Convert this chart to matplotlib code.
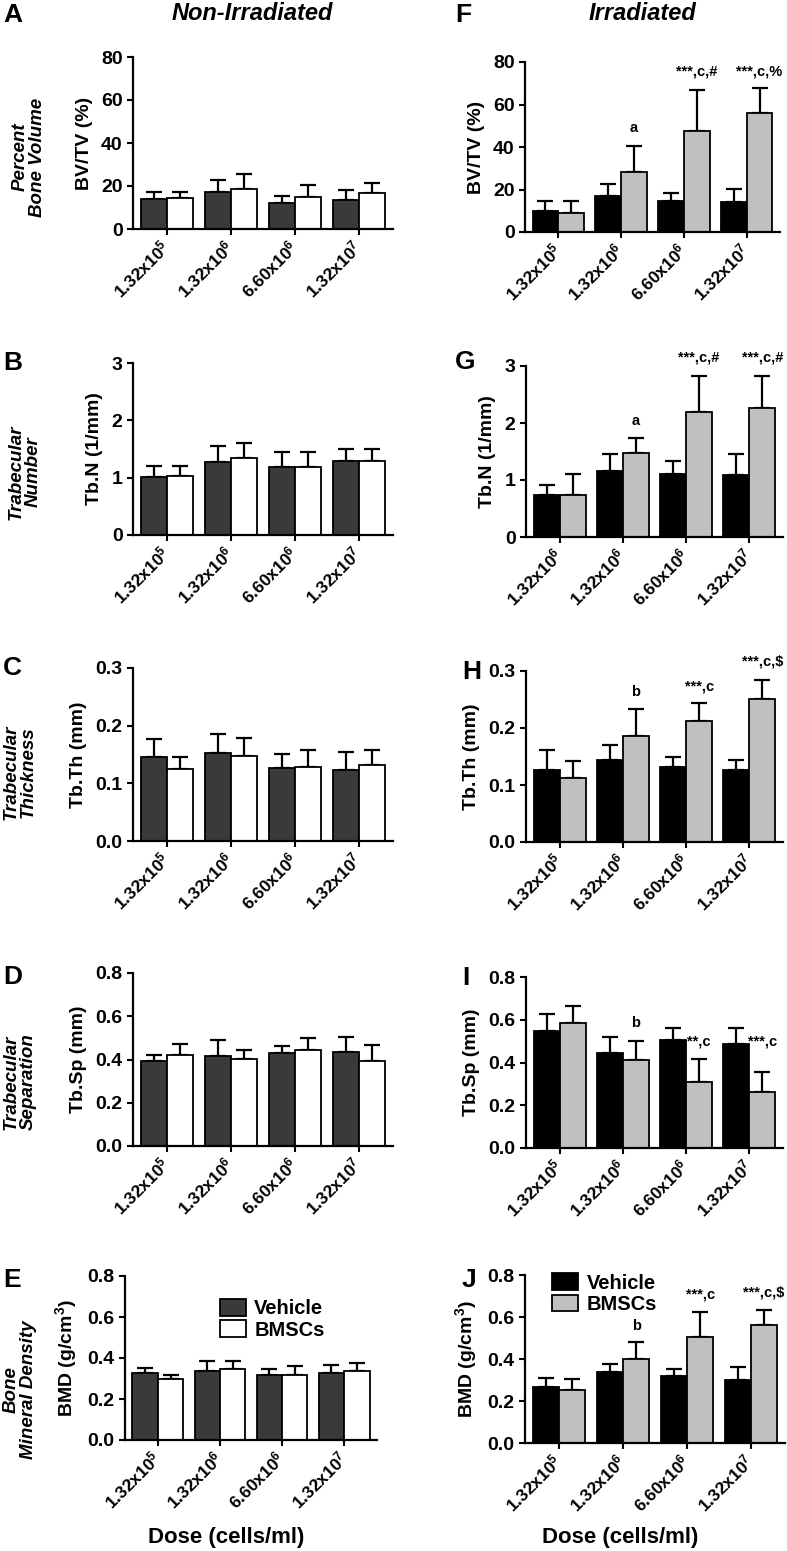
import matplotlib
matplotlib.use('Agg')
import matplotlib.pyplot as plt

plt.rcParams['font.family'] = ['Liberation Sans', 'DejaVu Sans']
plt.rcParams['font.weight'] = 'bold'
plt.rcParams['mathtext.fontset'] = 'custom'
plt.rcParams['mathtext.rm'] = 'Liberation Sans:bold'
plt.rcParams['mathtext.bf'] = 'Liberation Sans:bold'
plt.rcParams['mathtext.it'] = 'Liberation Sans:bold:italic'
plt.rcParams['mathtext.default'] = 'rm'

# dose categories (x tick labels)
doses = ['1.32x10$^{5}$', '1.32x10$^{6}$', '6.60x10$^{6}$', '1.32x10$^{7}$']
doses_g = ['1.32x10$^{6}$', '1.32x10$^{6}$', '6.60x10$^{6}$', '1.32x10$^{7}$']

# Non-irradiated: means and upper error
bvtv_veh = [14.1, 17.1, 12.2, 13.4]
bvtv_veh_err = [3.0, 5.8, 3.2, 4.7]
bvtv_bm = [14.2, 18.8, 15.1, 16.7]
bvtv_bm_err = [2.9, 6.8, 5.3, 4.6]

tbn_veh = [1.01, 1.27, 1.18, 1.29]
tbn_veh_err = [0.20, 0.29, 0.27, 0.21]
tbn_bm = [1.03, 1.34, 1.18, 1.29]
tbn_bm_err = [0.18, 0.27, 0.27, 0.21]

tbth_veh = [0.145, 0.152, 0.126, 0.123]
tbth_veh_err = [0.032, 0.033, 0.025, 0.032]
tbth_bm = [0.124, 0.147, 0.129, 0.131]
tbth_bm_err = [0.022, 0.032, 0.028, 0.026]

tbsp_veh = [0.395, 0.414, 0.432, 0.436]
tbsp_veh_err = [0.024, 0.074, 0.031, 0.067]
tbsp_bm = [0.420, 0.403, 0.443, 0.392]
tbsp_bm_err = [0.053, 0.043, 0.057, 0.073]

bmd_veh = [0.326, 0.338, 0.317, 0.328]
bmd_veh_err = [0.025, 0.045, 0.027, 0.039]
bmd_bm = [0.297, 0.344, 0.317, 0.339]
bmd_bm_err = [0.021, 0.039, 0.043, 0.036]

# Irradiated
ir_bvtv_veh = [9.8, 16.9, 14.5, 14.2]
ir_bvtv_veh_err = [4.7, 5.9, 3.9, 6.0]
ir_bvtv_bm = [9.0, 28.2, 47.6, 55.9]
ir_bvtv_bm_err = [5.6, 12.3, 19.3, 12.1]

ir_tbn_veh = [0.73, 1.16, 1.10, 1.08]
ir_tbn_veh_err = [0.18, 0.30, 0.24, 0.38]
ir_tbn_bm = [0.73, 1.48, 2.19, 2.27]
ir_tbn_bm_err = [0.37, 0.25, 0.64, 0.56]

ir_tbth_veh = [0.127, 0.144, 0.131, 0.126]
ir_tbth_veh_err = [0.034, 0.026, 0.018, 0.017]
ir_tbth_bm = [0.113, 0.186, 0.213, 0.250]
ir_tbth_bm_err = [0.029, 0.047, 0.031, 0.035]

ir_tbsp_veh = [0.548, 0.444, 0.505, 0.485]
ir_tbsp_veh_err = [0.081, 0.075, 0.057, 0.076]
ir_tbsp_bm = [0.586, 0.410, 0.309, 0.264]
ir_tbsp_bm_err = [0.080, 0.089, 0.107, 0.092]

ir_bmd_veh = [0.266, 0.338, 0.317, 0.301]
ir_bmd_veh_err = [0.043, 0.039, 0.035, 0.060]
ir_bmd_bm = [0.252, 0.399, 0.507, 0.561]
ir_bmd_bm_err = [0.052, 0.080, 0.116, 0.073]

# significance marks: (group, text, y)
marks_F = [(1, 'a', 48.8), (2, '***,c,#', 75.6), (3, '***,c,%', 75.6)]
marks_G = [(1, 'a', 2.04), (2, '***,c,#', 3.15), (3, '***,c,#', 3.15)]
marks_H = [(1, 'b', 0.263), (2, '***,c', 0.273), (3, '***,c,$', 0.317)]
marks_I = [(1, 'b', 0.586), (2, '**,c', 0.50), (3, '***,c', 0.50)]
marks_J = [(1, 'b', 0.559), (2, '***,c', 0.707), (3, '***,c,$', 0.716)]

W, H = 787, 1551
fig = plt.figure(figsize=(W / 100, H / 100), dpi=100)


def make_ax(l, r, t, b):
    return fig.add_axes([l / W, 1 - b / H, (r - l) / W, (b - t) / H])


def panel(ax, veh, veh_err, bm, bm_err, c_veh, c_bm, ymax, yticks, ylabel,
          xlabels, fmt, marks=()):
    w = 0.41
    x = list(range(len(veh)))
    xv = [i - w / 2 for i in x]
    xb = [i + w / 2 for i in x]
    ax.errorbar(xv, veh, yerr=[[0] * len(veh), veh_err], fmt='none',
                ecolor='black', elinewidth=1.6, capsize=6, capthick=1.6, zorder=1)
    ax.errorbar(xb, bm, yerr=[[0] * len(bm), bm_err], fmt='none',
                ecolor='black', elinewidth=1.6, capsize=6, capthick=1.6, zorder=1)
    ax.bar(xv, veh, width=w, color=c_veh, edgecolor='black', linewidth=1.3,
           zorder=2, label='Vehicle')
    ax.bar(xb, bm, width=w, color=c_bm, edgecolor='black', linewidth=1.3,
           zorder=2, label='BMSCs')
    ax.set_xlim(-0.53, 3.53)
    ax.set_ylim(0, ymax)
    ax.set_yticks(yticks)
    ax.set_yticklabels([fmt.format(v) for v in yticks], fontsize=14,
                       fontweight='bold')
    ax.set_xticks(x)
    ax.set_xticklabels(xlabels, rotation=45, ha='right', va='center',
                       rotation_mode='anchor', fontsize=12.5, fontweight='bold')
    ax.tick_params(axis='x', pad=7)
    ax.tick_params(direction='out', length=4, width=1.5)
    ax.set_ylabel(ylabel, fontsize=14, fontweight='bold', labelpad=6)
    for s in ['top', 'right']:
        ax.spines[s].set_visible(False)
    for s in ['left', 'bottom']:
        ax.spines[s].set_linewidth(1.6)
    for g, txt, y in marks:
        ax.text(g + w / 2, y, txt, ha='center', va='center', fontsize=10.5,
                fontweight='bold', clip_on=False)


dark = '#3a3a3a'
light = '#c0c0c0'

axA = make_ax(133, 393, 57, 229)
panel(axA, bvtv_veh, bvtv_veh_err, bvtv_bm, bvtv_bm_err, dark, 'white',
      80, [0, 20, 40, 60, 80], 'BV/TV (%)', doses, '{:.0f}')
axB = make_ax(133, 393, 363, 535)
panel(axB, tbn_veh, tbn_veh_err, tbn_bm, tbn_bm_err, dark, 'white',
      3, [0, 1, 2, 3], 'Tb.N (1/mm)', doses, '{:.0f}')
axC = make_ax(133, 393, 668, 841)
panel(axC, tbth_veh, tbth_veh_err, tbth_bm, tbth_bm_err, dark, 'white',
      0.3, [0, 0.1, 0.2, 0.3], 'Tb.Th (mm)', doses, '{:.1f}')
axD = make_ax(133, 393, 973, 1146)
panel(axD, tbsp_veh, tbsp_veh_err, tbsp_bm, tbsp_bm_err, dark, 'white',
      0.8, [0, 0.2, 0.4, 0.6, 0.8], 'Tb.Sp (mm)', doses, '{:.1f}')
axE = make_ax(125, 377, 1276, 1440)
panel(axE, bmd_veh, bmd_veh_err, bmd_bm, bmd_bm_err, dark, 'white',
      0.8, [0, 0.2, 0.4, 0.6, 0.8], 'BMD (g/cm$^{3}$)', doses, '{:.1f}')
axE.legend(loc='upper left', bbox_to_anchor=(0.377, 0.86), frameon=False,
           fontsize=14.5, borderpad=0, borderaxespad=0, handlelength=1.3,
           handleheight=0.9, handletextpad=0.4, labelspacing=0.1)

axF = make_ax(525, 780, 62, 232)
panel(axF, ir_bvtv_veh, ir_bvtv_veh_err, ir_bvtv_bm, ir_bvtv_bm_err, 'black',
      light, 80, [0, 20, 40, 60, 80], 'BV/TV (%)', doses, '{:.0f}', marks_F)
axG = make_ax(526, 783, 366, 537)
panel(axG, ir_tbn_veh, ir_tbn_veh_err, ir_tbn_bm, ir_tbn_bm_err, 'black',
      light, 3, [0, 1, 2, 3], 'Tb.N (1/mm)', doses_g, '{:.0f}', marks_G)
axH = make_ax(526, 783, 671, 842)
panel(axH, ir_tbth_veh, ir_tbth_veh_err, ir_tbth_bm, ir_tbth_bm_err, 'black',
      light, 0.3, [0, 0.1, 0.2, 0.3], 'Tb.Th (mm)', doses, '{:.1f}', marks_H)
axI = make_ax(526, 783, 977, 1148)
panel(axI, ir_tbsp_veh, ir_tbsp_veh_err, ir_tbsp_bm, ir_tbsp_bm_err, 'black',
      light, 0.8, [0, 0.2, 0.4, 0.6, 0.8], 'Tb.Sp (mm)', doses, '{:.1f}', marks_I)
axJ = make_ax(525, 785, 1275, 1443)
panel(axJ, ir_bmd_veh, ir_bmd_veh_err, ir_bmd_bm, ir_bmd_bm_err, 'black',
      light, 0.8, [0, 0.2, 0.4, 0.6, 0.8], 'BMD (g/cm$^{3}$)', doses, '{:.1f}', marks_J)
axJ.legend(loc='upper left', bbox_to_anchor=(0.105, 1.01), frameon=False,
           fontsize=14.5, borderpad=0, borderaxespad=0, handlelength=1.3,
           handleheight=0.9, handletextpad=0.4, labelspacing=0.1)

# column titles
fig.text(252 / W, 1 - 14 / H, 'Non-Irradiated', ha='center', va='center',
         fontsize=17, fontweight='bold', fontstyle='italic')
fig.text(642 / W, 1 - 14 / H, 'Irradiated', ha='center', va='center',
         fontsize=17, fontweight='bold', fontstyle='italic')

# panel letters
letters = [('A', 3, 15), ('B', 3, 363), ('C', 3, 668), ('D', 3, 977), ('E', 3, 1280),
           ('F', 455, 15), ('G', 455, 362), ('H', 462, 672), ('I', 462, 978),
           ('J', 462, 1280)]
for s, lx, ly in letters:
    fig.text(lx / W, 1 - ly / H, s, ha='left', va='center', fontsize=19,
             fontweight='bold')

# row descriptions
rows = [('Percent\nBone Volume', 29, 157), ('Trabecular\nNumber', 25, 472),
        ('Trabecular\nThickness', 20, 772), ('Trabecular\nSeparation', 20, 1082),
        ('Bone\nMineral Density', 20, 1390)]
for s, rx, ry in rows:
    fig.text(rx / W, 1 - ry / H, s, ha='center', va='center', rotation=90,
             fontsize=13.5, fontweight='bold', fontstyle='italic',
             multialignment='center', linespacing=1.0)

fig.text(226 / W, 1 - 1538 / H, 'Dose (cells/ml)', ha='center', va='center',
         fontsize=16, fontweight='bold')
fig.text(620 / W, 1 - 1538 / H, 'Dose (cells/ml)', ha='center', va='center',
         fontsize=16, fontweight='bold')

fig.savefig('out.png', dpi=100)
